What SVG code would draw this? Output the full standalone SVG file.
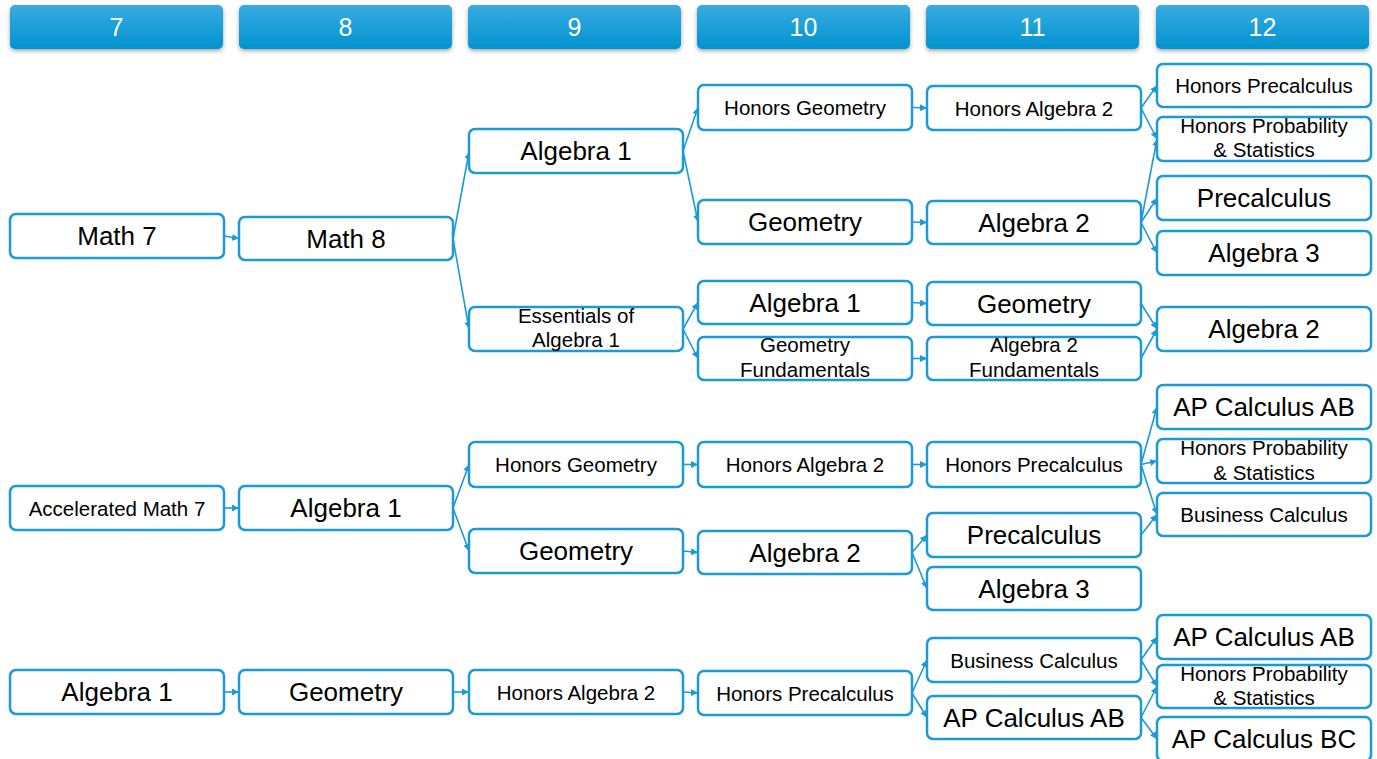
<svg xmlns="http://www.w3.org/2000/svg" width="1377" height="759" viewBox="0 0 1377 759">
<defs>
<linearGradient id="hg" x1="0" y1="0" x2="0" y2="1">
<stop offset="0" stop-color="#3AABE1"/>
<stop offset="1" stop-color="#0093CF"/>
</linearGradient>
<filter id="sh" x="-10%" y="-30%" width="120%" height="170%">
<feDropShadow dx="0" dy="2" stdDeviation="2" flood-color="#000" flood-opacity="0.35"/>
</filter>
<marker id="ah" viewBox="0 0 10 10" refX="10" refY="5" markerWidth="7" markerHeight="7" markerUnits="userSpaceOnUse" orient="auto">
<path d="M0,0 L10,5 L0,10 z" fill="#1C9AD6"/>
</marker>
</defs>
<style>
.hd rect{fill:url(#hg);filter:url(#sh)}
.hd text{fill:#fff;font-family:"Liberation Sans",Arial,sans-serif;font-size:25px;text-anchor:middle;dominant-baseline:central}
.n rect{fill:#fff;stroke:#1C9AD6;stroke-width:2.5}
.n text{fill:#000;font-family:"Liberation Sans",Arial,sans-serif;text-anchor:middle}
.s{font-size:20.5px}
.l{font-size:26px}
.c{dominant-baseline:central}
#connectors path{fill:none;stroke:#1C9AD6;stroke-width:1.6;marker-end:url(#ah)}
</style>
<rect width="1377" height="759" fill="#fff"/>
<g id="headers" class="hd">
<g id="h7"><rect x="10" y="5" width="213" height="44" rx="5"/><text x="116.5" y="27">7</text></g>
<g id="h8"><rect x="239" y="5" width="213" height="44" rx="5"/><text x="345.5" y="27">8</text></g>
<g id="h9"><rect x="468" y="5" width="213" height="44" rx="5"/><text x="574.5" y="27">9</text></g>
<g id="h10"><rect x="697" y="5" width="213" height="44" rx="5"/><text x="803.5" y="27">10</text></g>
<g id="h11"><rect x="926" y="5" width="213" height="44" rx="5"/><text x="1032.5" y="27">11</text></g>
<g id="h12"><rect x="1156" y="5" width="213" height="44" rx="5"/><text x="1262.5" y="27">12</text></g>
</g>
<g id="connectors">
<path d="M224,236 L239,238.5"/>
<path d="M453,238.5 L469,152"/>
<path d="M453,238.5 L469,329"/>
<path d="M683,151 L698,107.5"/>
<path d="M683,151 L698,222"/>
<path d="M683,329 L698,302.5"/>
<path d="M683,329 L698,358.5"/>
<path d="M912,107.5 L927,108"/>
<path d="M912,222 L927,222.5"/>
<path d="M912,302.5 L927,303.5"/>
<path d="M912,358.5 L927,358.5"/>
<path d="M1141,108 L1157,85.5"/>
<path d="M1141,108 L1157,139"/>
<path d="M1141,222.5 L1157,139"/>
<path d="M1141,222.5 L1157,198"/>
<path d="M1141,222.5 L1157,253"/>
<path d="M1141,303.5 L1157,329"/>
<path d="M1141,358.5 L1157,329"/>
<path d="M224,508 L239,508"/>
<path d="M453,508 L469,464.5"/>
<path d="M453,508 L469,551"/>
<path d="M683,464.5 L698,464.5"/>
<path d="M683,551 L698,552.5"/>
<path d="M912,464.5 L927,464.5"/>
<path d="M912,552.5 L927,535"/>
<path d="M912,552.5 L927,588.5"/>
<path d="M1141,464.5 L1157,407"/>
<path d="M1141,464.5 L1157,461"/>
<path d="M1141,464.5 L1157,514.5"/>
<path d="M1141,535 L1157,514.5"/>
<path d="M224,692 L239,692"/>
<path d="M453,692 L469,692"/>
<path d="M683,692 L698,693"/>
<path d="M912,693 L927,660"/>
<path d="M912,693 L927,717.5"/>
<path d="M1141,660 L1157,637"/>
<path d="M1141,660 L1157,686.5"/>
<path d="M1141,717.5 L1157,686.5"/>
<path d="M1141,717.5 L1157,739"/>
</g>
<g id="n1_math7" class="n"><rect x="10" y="214" width="214" height="44" rx="6"/><text class="l c" x="117" y="236">Math 7</text></g>
<g id="n1_math8" class="n"><rect x="239" y="217" width="214" height="43" rx="6"/><text class="l c" x="346" y="238.5">Math 8</text></g>
<g id="n1_alg1_9" class="n"><rect x="469" y="129" width="214" height="44" rx="6"/><text class="l c" x="576" y="151">Algebra 1</text></g>
<g id="n1_ess" class="n"><rect x="469" y="307" width="214" height="44" rx="6"/><text class="s" x="576" y="323">Essentials of</text><text class="s" x="576" y="347">Algebra 1</text></g>
<g id="n1_hgeo_10" class="n"><rect x="698" y="85" width="214" height="45" rx="6"/><text class="s c" x="805" y="107.5">Honors Geometry</text></g>
<g id="n1_geo_10" class="n"><rect x="698" y="200" width="214" height="44" rx="6"/><text class="l c" x="805" y="222">Geometry</text></g>
<g id="n1_alg1_10" class="n"><rect x="698" y="281" width="214" height="43" rx="6"/><text class="l c" x="805" y="302.5">Algebra 1</text></g>
<g id="n1_geofund" class="n"><rect x="698" y="337" width="214" height="43" rx="6"/><text class="s" x="805" y="352">Geometry</text><text class="s" x="805" y="377">Fundamentals</text></g>
<g id="n1_halg2_11" class="n"><rect x="927" y="86" width="214" height="44" rx="6"/><text class="s c" x="1034" y="108">Honors Algebra 2</text></g>
<g id="n1_alg2_11" class="n"><rect x="927" y="201" width="214" height="43" rx="6"/><text class="l c" x="1034" y="222.5">Algebra 2</text></g>
<g id="n1_geo_11" class="n"><rect x="927" y="282" width="214" height="43" rx="6"/><text class="l c" x="1034" y="303.5">Geometry</text></g>
<g id="n1_alg2fund" class="n"><rect x="927" y="337" width="214" height="43" rx="6"/><text class="s" x="1034" y="352">Algebra 2</text><text class="s" x="1034" y="377">Fundamentals</text></g>
<g id="n1_hprecalc_12" class="n"><rect x="1157" y="64" width="214" height="43" rx="6"/><text class="s c" x="1264" y="85.5">Honors Precalculus</text></g>
<g id="n1_hprob_12" class="n"><rect x="1157" y="117" width="214" height="44" rx="6"/><text class="s" x="1264" y="133">Honors Probability</text><text class="s" x="1264" y="157">&amp; Statistics</text></g>
<g id="n1_precalc_12" class="n"><rect x="1157" y="176" width="214" height="44" rx="6"/><text class="l c" x="1264" y="198">Precalculus</text></g>
<g id="n1_alg3_12" class="n"><rect x="1157" y="231" width="214" height="44" rx="6"/><text class="l c" x="1264" y="253">Algebra 3</text></g>
<g id="n1_alg2_12" class="n"><rect x="1157" y="307" width="214" height="44" rx="6"/><text class="l c" x="1264" y="329">Algebra 2</text></g>
<g id="n2_accmath7" class="n"><rect x="10" y="486" width="214" height="44" rx="6"/><text class="s c" x="117" y="508">Accelerated Math 7</text></g>
<g id="n2_alg1_8" class="n"><rect x="239" y="486" width="214" height="44" rx="6"/><text class="l c" x="346" y="508">Algebra 1</text></g>
<g id="n2_hgeo_9" class="n"><rect x="469" y="442" width="214" height="45" rx="6"/><text class="s c" x="576" y="464.5">Honors Geometry</text></g>
<g id="n2_geo_9" class="n"><rect x="469" y="529" width="214" height="44" rx="6"/><text class="l c" x="576" y="551">Geometry</text></g>
<g id="n2_halg2_10" class="n"><rect x="698" y="442" width="214" height="45" rx="6"/><text class="s c" x="805" y="464.5">Honors Algebra 2</text></g>
<g id="n2_alg2_10" class="n"><rect x="698" y="531" width="214" height="43" rx="6"/><text class="l c" x="805" y="552.5">Algebra 2</text></g>
<g id="n2_hprecalc_11" class="n"><rect x="927" y="442" width="214" height="45" rx="6"/><text class="s c" x="1034" y="464.5">Honors Precalculus</text></g>
<g id="n2_precalc_11" class="n"><rect x="927" y="513" width="214" height="44" rx="6"/><text class="l c" x="1034" y="535">Precalculus</text></g>
<g id="n2_alg3_11" class="n"><rect x="927" y="567" width="214" height="43" rx="6"/><text class="l c" x="1034" y="588.5">Algebra 3</text></g>
<g id="n2_apab_12" class="n"><rect x="1157" y="385" width="214" height="44" rx="6"/><text class="l c" x="1264" y="407">AP Calculus AB</text></g>
<g id="n2_hprob_12" class="n"><rect x="1157" y="439" width="214" height="44" rx="6"/><text class="s" x="1264" y="455">Honors Probability</text><text class="s" x="1264" y="480">&amp; Statistics</text></g>
<g id="n2_buscalc_12" class="n"><rect x="1157" y="493" width="214" height="43" rx="6"/><text class="s c" x="1264" y="514.5">Business Calculus</text></g>
<g id="n3_alg1_7" class="n"><rect x="10" y="670" width="214" height="44" rx="6"/><text class="l c" x="117" y="692">Algebra 1</text></g>
<g id="n3_geo_8" class="n"><rect x="239" y="670" width="214" height="44" rx="6"/><text class="l c" x="346" y="692">Geometry</text></g>
<g id="n3_halg2_9" class="n"><rect x="469" y="670" width="214" height="44" rx="6"/><text class="s c" x="576" y="692">Honors Algebra 2</text></g>
<g id="n3_hprecalc_10" class="n"><rect x="698" y="671" width="214" height="44" rx="6"/><text class="s c" x="805" y="693">Honors Precalculus</text></g>
<g id="n3_buscalc_11" class="n"><rect x="927" y="638" width="214" height="44" rx="6"/><text class="s c" x="1034" y="660">Business Calculus</text></g>
<g id="n3_apab_11" class="n"><rect x="927" y="696" width="214" height="43" rx="6"/><text class="l c" x="1034" y="717.5">AP Calculus AB</text></g>
<g id="n3_apab_12" class="n"><rect x="1157" y="615" width="214" height="44" rx="6"/><text class="l c" x="1264" y="637">AP Calculus AB</text></g>
<g id="n3_hprob_12" class="n"><rect x="1157" y="665" width="214" height="43" rx="6"/><text class="s" x="1264" y="681">Honors Probability</text><text class="s" x="1264" y="705">&amp; Statistics</text></g>
<g id="n3_apbc_12" class="n"><rect x="1157" y="717" width="214" height="44" rx="6"/><text class="l c" x="1264" y="739">AP Calculus BC</text></g>
</svg>
